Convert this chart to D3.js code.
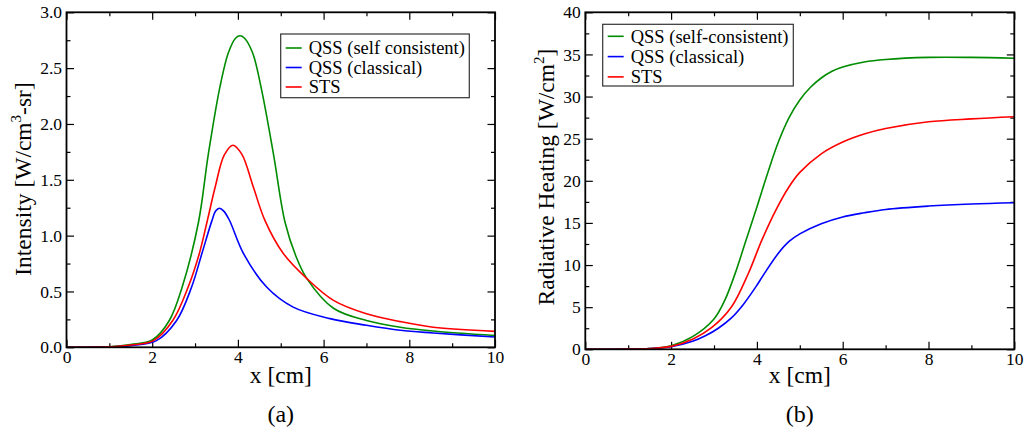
<!DOCTYPE html>
<html>
<head>
<meta charset="utf-8">
<script src="https://cdn.jsdelivr.net/npm/d3@7"></script>
<style>
  body { margin: 0; background: #fff; }
  svg { display: block; font-family: "Liberation Serif", "Times New Roman", serif; }
</style>
</head>
<body>
<div id="chart"></div>
<script>
// panel (a): intensity, W/cm^3-sr
var intensitySelf = [[0,0],[0.5,0.001],[1,0.005],[1.5,0.025],[2,0.065],[2.4,0.24],[2.7,0.54],[3.08,1.12],[3.31,1.73],
  [3.58,2.33],[3.78,2.64],[3.95,2.77],[4.05,2.79],[4.15,2.77],[4.34,2.64],[4.54,2.33],[4.83,1.73],[5.1,1.12],
  [5.35,0.82],[5.61,0.615],[6.23,0.35],[7,0.24],[7.79,0.18],[8.56,0.146],[10,0.105]]
var intensityClassical = [[0,0],[0.5,0.001],[1,0.003],[1.5,0.015],[2.1,0.06],[2.57,0.24],[2.92,0.54],[3.16,0.84],[3.39,1.13],
  [3.48,1.22],[3.57,1.245],[3.67,1.22],[3.8,1.14],[4.13,0.84],[4.67,0.54],[5.29,0.36],[6.15,0.257],[7,0.197],
  [7.79,0.152],[8.56,0.128],[10,0.092]]
var intensitySTS = [[0,0],[0.5,0.001],[1,0.004],[1.5,0.02],[2.03,0.06],[2.48,0.24],[2.84,0.54],[3.1,0.84],[3.29,1.14],
  [3.47,1.435],[3.68,1.72],[3.88,1.81],[4.09,1.73],[4.36,1.435],[4.63,1.137],[5.06,0.84],
  [5.61,0.615],[6.23,0.42],[7,0.3],[7.79,0.23],[8.56,0.18],[10,0.143]]

// panel (b): radiative heating, W/cm^2
var heatingSelf = [[0,0],[1,0.02],[1.5,0.1],[2,0.43],[2.5,1.5],[3,3.6],[3.25,5.8],[3.5,9.1],[3.75,13],[4,16.9],
  [4.25,20.9],[4.5,24.6],[4.75,27.5],[5,29.6],[5.25,31.1],[5.5,32.2],[5.75,33.0],[6,33.5],[6.5,34.1],[7,34.4],
  [8,34.65],[9,34.65],[10,34.55]]
var heatingClassical = [[0,0],[1,0.02],[1.5,0.08],[2,0.3],[2.5,0.95],[2.8,1.6],[3.1,2.5],[3.4,3.7],[3.68,5.3],[4,7.6],
  [4.15,8.8],[4.5,11.4],[4.75,12.8],[5,13.7],[5.5,14.9],[6,15.7],[6.5,16.2],[7,16.6],[8,17],[9,17.25],[10,17.4]]
var heatingSTS = [[0,0],[1,0.02],[1.5,0.1],[2,0.35],[2.5,1.2],[2.95,2.6],[3.41,5.06],[3.8,9],[4.11,12.9],[4.46,16.7],
  [4.75,19.3],[5,21.0],[5.5,23.2],[6,24.6],[6.5,25.55],[7,26.2],[8,27],[9,27.35],[10,27.6]]

var legendA = ["QSS (self consistent)", "QSS (classical)", "STS"]
var legendB = ["QSS (self-consistent)", "QSS (classical)", "STS"]
var seriesColors = ["#008c00", "#0000ff", "#ff0000"]

var xMajorTicks = [0, 2, 4, 6, 8, 10]
var xMinorTicks = [1, 3, 5, 7, 9]
var yMajorTicksA = [0, 0.5, 1.0, 1.5, 2.0, 2.5, 3.0]
var yMinorTicksA = [0.25, 0.75, 1.25, 1.75, 2.25, 2.75]
var yMajorTicksB = [0, 5, 10, 15, 20, 25, 30, 35, 40]
var yMinorTicksB = [2.5, 7.5, 12.5, 17.5, 22.5, 27.5, 32.5, 37.5]

var W = 1028, H = 431

var svg = d3.select("#chart").append("svg")
    .attr("width", W)
    .attr("height", H)
    .attr("font-family", "Liberation Serif, Times New Roman, serif")

function drawPanel(p) {
    var x = d3.scaleLinear().domain([0, 10]).range([p.left, p.right])
    var y = d3.scaleLinear().domain([0, p.yMax]).range([p.bottom, p.top])
    var g = svg.append("g")

    // inward ticks on all four sides
    var majorLen = 7.5, minorLen = 4
    g.append("g").attr("transform", "translate(0," + p.bottom + ")")
        .call(d3.axisBottom(x).tickValues(xMajorTicks).tickSize(-majorLen).tickPadding(3.5).tickFormat(d3.format("d")))
    g.append("g").attr("transform", "translate(0," + p.bottom + ")")
        .call(d3.axisBottom(x).tickValues(xMinorTicks).tickSize(-minorLen).tickFormat(""))
    g.append("g").attr("transform", "translate(0," + p.top + ")")
        .call(d3.axisTop(x).tickValues(xMajorTicks).tickSize(-majorLen).tickFormat(""))
    g.append("g").attr("transform", "translate(0," + p.top + ")")
        .call(d3.axisTop(x).tickValues(xMinorTicks).tickSize(-minorLen).tickFormat(""))
    g.append("g").attr("transform", "translate(" + p.left + ",0)")
        .call(d3.axisLeft(y).tickValues(p.yMajor).tickSize(-majorLen).tickPadding(4.5).tickFormat(p.yFormat))
    g.append("g").attr("transform", "translate(" + p.left + ",0)")
        .call(d3.axisLeft(y).tickValues(p.yMinor).tickSize(-minorLen).tickFormat(""))
    g.append("g").attr("transform", "translate(" + p.right + ",0)")
        .call(d3.axisRight(y).tickValues(p.yMajor).tickSize(-majorLen).tickFormat(""))
    g.append("g").attr("transform", "translate(" + p.right + ",0)")
        .call(d3.axisRight(y).tickValues(p.yMinor).tickSize(-minorLen).tickFormat(""))

    g.selectAll(".domain").remove()
    g.selectAll("g").attr("font-family", null)
    g.selectAll(".tick line").attr("stroke", "#000").attr("stroke-width", 1.2)
    g.selectAll(".tick text").attr("font-size", 17.5).attr("fill", "#000")

    var line = d3.line()
        .x(function (d) { return x(d[0]) })
        .y(function (d) { return y(d[1]) })
        .curve(d3.curveCatmullRom.alpha(0.5))

    p.series.forEach(function (s, i) {
        g.append("path")
            .datum(s)
            .attr("d", line)
            .attr("fill", "none")
            .attr("stroke", seriesColors[i])
            .attr("stroke-width", 1.6)
    })

    // frame
    g.append("rect")
        .attr("x", p.left).attr("y", p.top)
        .attr("width", p.right - p.left).attr("height", p.bottom - p.top)
        .attr("fill", "none").attr("stroke", "#000").attr("stroke-width", 1.8)

    // legend
    var lg = g.append("g")
    lg.append("rect")
        .attr("x", p.legend.x).attr("y", p.legend.y)
        .attr("width", p.legend.w).attr("height", p.legend.h)
        .attr("fill", "#fff").attr("stroke", "#333").attr("stroke-width", 1.2)
    p.legendLabels.forEach(function (lab, i) {
        var cy = p.legend.y + p.legend.first + i * p.legend.step
        lg.append("line")
            .attr("x1", p.legend.x + 5).attr("x2", p.legend.x + 21)
            .attr("y1", cy).attr("y2", cy)
            .attr("stroke", seriesColors[i]).attr("stroke-width", 1.6)
        lg.append("text")
            .attr("x", p.legend.x + 28).attr("y", cy).attr("dy", "0.35em")
            .attr("font-size", 18.5)
            .text(lab)
    })

    // axis titles
    g.append("text")
        .attr("x", (p.left + p.right) / 2).attr("y", 383)
        .attr("text-anchor", "middle").attr("font-size", 23.5)
        .text("x [cm]")
    var yt = g.append("text")
        .attr("transform", "translate(" + p.yTitleX + "," + p.yTitleY + ") rotate(-90)")
        .attr("text-anchor", "middle").attr("font-size", 23.5)
    yt.append("tspan").text(p.yTitle[0])
    yt.append("tspan").attr("dy", -10).attr("font-size", 15).text(p.yTitle[1])
    yt.append("tspan").attr("dy", 10).text(p.yTitle[2])

    // caption
    g.append("text")
        .attr("x", (p.left + p.right) / 2).attr("y", 422)
        .attr("text-anchor", "middle").attr("font-size", 24)
        .text(p.caption)
}

drawPanel({
    left: 66.5, right: 495, top: 12.3, bottom: 347.3,
    yMax: 3, yMajor: yMajorTicksA, yMinor: yMinorTicksA, yFormat: d3.format(".1f"),
    series: [intensitySelf, intensityClassical, intensitySTS],
    legendLabels: legendA,
    legend: { x: 280.7, y: 34, w: 188.6, h: 63.7, first: 14, step: 19.5 },
    yTitle: ["Intensity [W/cm", "3", "-sr]"], yTitleX: 30.5, yTitleY: 179,
    caption: "(a)"
})

drawPanel({
    left: 585.3, right: 1014.3, top: 12.3, bottom: 349.3,
    yMax: 40, yMajor: yMajorTicksB, yMinor: yMinorTicksB, yFormat: d3.format("d"),
    series: [heatingSelf, heatingClassical, heatingSTS],
    legendLabels: legendB,
    legend: { x: 602.7, y: 24.3, w: 190.6, h: 61.7, first: 12, step: 20.3 },
    yTitle: ["Radiative Heating [W/cm", "2", "]"], yTitleX: 553.5, yTitleY: 177,
    caption: "(b)"
})
</script>
</body>
</html>
